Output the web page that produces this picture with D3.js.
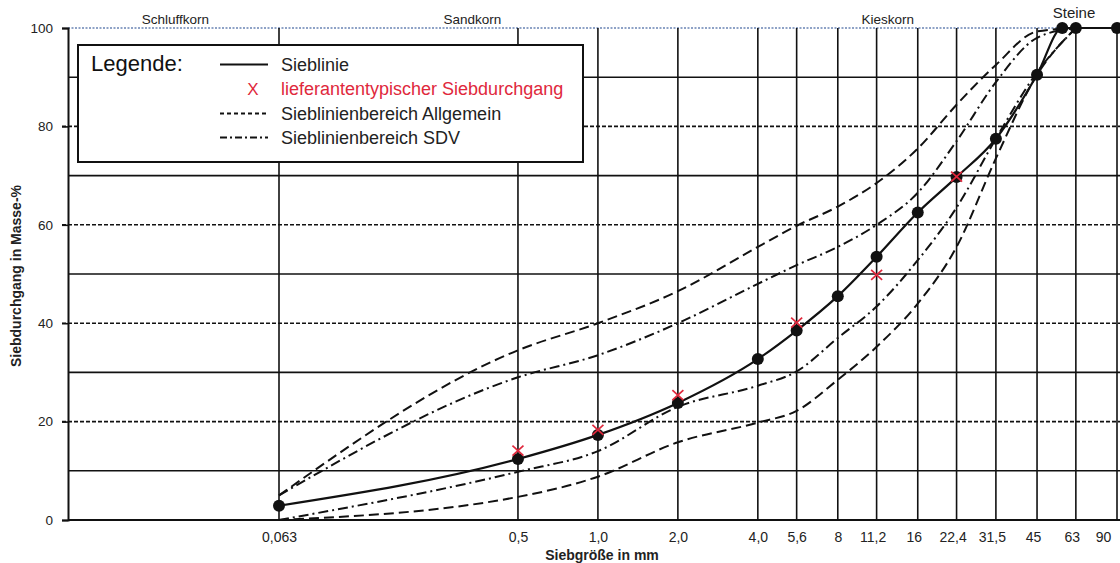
<!DOCTYPE html>
<html>
<head>
<meta charset="utf-8">
<script src="https://cdn.jsdelivr.net/npm/d3@7"></script>
<style>
  body { margin: 0; background: #fff; }
  svg { display: block; font-family: "Liberation Sans", Arial, sans-serif; }
</style>
</head>
<body>
<div id="chart"></div>
<script>
// sieve sizes (mm) and their axis labels
var sieveSizes = [0.063, 0.5, 1, 2, 4, 5.6, 8, 11.2, 16, 22.4, 31.5, 45, 63, 90];
var sieveLabels = ["0,063", "0,5", "1,0", "2,0", "4,0", "5,6", "8", "11,2", "16", "22,4", "31,5", "45", "63", "90"];

var yTicks = [0, 20, 40, 60, 80, 100];
var gridSolid = [10, 30, 50, 70, 90];
var gridDashed = [20, 40, 60, 80];

// Sieblinie (measured)
var lineSizes = [0.063, 0.5, 1, 2, 4, 5.6, 8, 11.2, 16, 22.4, 31.5, 45, 56, 63, 90];
var lineValues = [2.9, 12.4, 17.3, 23.8, 32.7, 38.5, 45.5, 53.5, 62.5, 69.7, 77.5, 90.5, 100, 100, 100];

// lieferantentypischer Siebdurchgang
var typSizes = [0.5, 1, 2, 5.6, 11.2, 22.4];
var typValues = [14.1, 18.3, 25.4, 40.1, 49.8, 69.8];

// Sieblinienbereiche
var bandSizes = [0.063, 0.5, 1, 2, 4, 5.6, 8, 11.2, 16, 22.4, 31.5, 45, 63];
var allgemeinUpper = [5, 34.5, 40, 46.5, 55.5, 59.8, 63.7, 68.5, 75.5, 84.4, 92.5, 99.3, 100];
var allgemeinLower = [0, 4.7, 8.8, 15.8, 19.8, 22.2, 28.5, 35.2, 44, 55.5, 73.5, 90.5, 100];
var sdvUpper = [5, 29, 33.5, 40, 48, 51.8, 55.5, 60, 66.5, 77, 89, 98, 100];
var sdvLower = [0, 9.8, 14, 23, 27.3, 30.2, 37, 43.4, 52.8, 63.5, 77.5, 91, 100];

var zoneNames = ["Schluffkorn", "Sandkorn", "Kieskorn"];
var zoneBounds = [[0.0101, 0.063], [0.063, 2], [2, 63]];

var legendLabels = ["Sieblinie", "lieferantentypischer Siebdurchgang", "Sieblinienbereich Allgemein", "Sieblinienbereich SDV"];

var svgWidth = 1120;
var svgHeight = 563;
var plotLeft = 68, plotRight = 1120, plotTop = 28, plotBottom = 520;
var ink = "#111";
var red = "#e0283c";

var svg = d3.select("#chart").append("svg")
  .attr("width", svgWidth)
  .attr("height", svgHeight);

var x = d3.scaleLog().domain([0.063, 90]).range([279, 1117]);
var y = d3.scaleLinear().domain([0, 100]).range([plotBottom, plotTop]);

// top border, dotted blue
svg.append("line")
  .attr("x1", plotLeft).attr("x2", plotRight)
  .attr("y1", y(100)).attr("y2", y(100))
  .attr("stroke", "#6a84b4").attr("stroke-width", 1.3)
  .attr("stroke-dasharray", "2,1.5");

// horizontal grid
svg.append("g").selectAll("line")
  .data(gridSolid).enter().append("line")
  .attr("x1", plotLeft).attr("x2", plotRight)
  .attr("y1", d => y(d)).attr("y2", d => y(d))
  .attr("stroke", ink).attr("stroke-width", 1.6);

svg.append("g").selectAll("line")
  .data(gridDashed).enter().append("line")
  .attr("x1", plotLeft - 6).attr("x2", plotRight)
  .attr("y1", d => y(d)).attr("y2", d => y(d))
  .attr("stroke", ink).attr("stroke-width", 1.6)
  .attr("stroke-dasharray", "4,2");

// vertical grid at every sieve size
svg.append("g").selectAll("line")
  .data(sieveSizes).enter().append("line")
  .attr("x1", d => x(d)).attr("x2", d => x(d))
  .attr("y1", y(100)).attr("y2", y(0))
  .attr("stroke", ink).attr("stroke-width", 1.6);

// y axis
var yAxis = svg.append("g")
  .attr("transform", `translate(${plotLeft},0)`)
  .call(d3.axisLeft(y).tickValues(yTicks).tickSize(6).tickPadding(9));
yAxis.select(".domain").attr("stroke", ink).attr("stroke-width", 2);
yAxis.selectAll(".tick line").attr("stroke", ink).attr("stroke-width", 1.6);
yAxis.selectAll(".tick text")
  .attr("fill", "#222").style("font-size", "13.5px")
  .style("font-family", "'Liberation Sans', Arial, sans-serif");

// x axis
var xAxis = svg.append("g")
  .attr("transform", `translate(0,${plotBottom})`)
  .call(d3.axisBottom(x).tickValues(sieveSizes)
    .tickFormat((d, i) => sieveLabels[i]).tickSize(0).tickPadding(12));
xAxis.select(".domain").remove();
xAxis.selectAll(".tick text")
  .attr("fill", "#222").style("font-size", "14px")
  .style("font-family", "'Liberation Sans', Arial, sans-serif")
  .attr("dx", (d, i) => i === sieveSizes.length - 1 ? -14 : (i > 6 ? -4 : 0));
svg.append("line")
  .attr("x1", plotLeft).attr("x2", plotRight)
  .attr("y1", plotBottom).attr("y2", plotBottom)
  .attr("stroke", ink).attr("stroke-width", 2);

// zone labels
svg.append("g").selectAll("text")
  .data(zoneNames).enter().append("text")
  .attr("x", (d, i) => (x(zoneBounds[i][0]) + x(zoneBounds[i][1])) / 2)
  .attr("dx", (d, i) => [2, -6, 11][i])
  .attr("y", 24)
  .attr("text-anchor", "middle")
  .attr("fill", "#222")
  .style("font-size", "13.5px")
  .text(d => d);
svg.append("text")
  .attr("x", x(62)).attr("y", 18)
  .attr("text-anchor", "middle").attr("fill", "#222")
  .style("font-size", "15px")
  .text("Steine");

// axis titles
svg.append("text")
  .attr("transform", "translate(21,276) rotate(-90)")
  .attr("text-anchor", "middle").attr("fill", "#222")
  .style("font-size", "14px").style("font-weight", "bold")
  .text("Siebdurchgang in Masse-%");
svg.append("text")
  .attr("x", 602).attr("y", 560)
  .attr("text-anchor", "middle").attr("fill", "#222")
  .style("font-size", "14px").style("font-weight", "bold")
  .text("Siebgröße in mm");

// curves
var curve = d3.line()
  .x(d => x(d[0]))
  .y(d => y(d[1]))
  .curve(d3.curveMonotoneX);

function drawBand(values, dash) {
  svg.append("path")
    .datum(bandSizes.map((s, i) => [s, values[i]]))
    .attr("d", curve)
    .attr("fill", "none")
    .attr("stroke", ink).attr("stroke-width", 2)
    .attr("stroke-dasharray", dash);
}
drawBand(allgemeinUpper, "10,5");
drawBand(allgemeinLower, "10,5");
drawBand(sdvUpper, "10,4,2,4");
drawBand(sdvLower, "10,4,2,4");

var sieblinie = lineSizes.map((s, i) => [s, lineValues[i]]);
svg.append("path")
  .datum(sieblinie)
  .attr("d", curve)
  .attr("fill", "none")
  .attr("stroke", ink).attr("stroke-width", 2.2);

svg.append("g").selectAll("circle")
  .data(sieblinie).enter().append("circle")
  .attr("cx", d => x(d[0])).attr("cy", d => y(d[1]))
  .attr("r", 6).attr("fill", ink);

// red crosses
var typ = typSizes.map((s, i) => [s, typValues[i]]);
var crosses = svg.append("g").selectAll("g")
  .data(typ).enter().append("g")
  .attr("transform", d => `translate(${x(d[0])},${y(d[1])})`);
crosses.append("line").attr("x1", -5.5).attr("y1", -5).attr("x2", 5.5).attr("y2", 5)
  .attr("stroke", red).attr("stroke-width", 1.7);
crosses.append("line").attr("x1", -5.5).attr("y1", 5).attr("x2", 5.5).attr("y2", -5)
  .attr("stroke", red).attr("stroke-width", 1.7);

// legend
var legend = svg.append("g");
legend.append("rect")
  .attr("x", 78).attr("y", 45).attr("width", 505).attr("height", 117)
  .attr("fill", "#fff").attr("stroke", ink).attr("stroke-width", 2);
legend.append("text")
  .attr("x", 91).attr("y", 71)
  .attr("fill", "#111").style("font-size", "22px")
  .text("Legende:");

var rowY = [64.5, 89, 113.5, 137.5];
legend.selectAll(".lbl")
  .data(legendLabels).enter().append("text")
  .attr("class", "lbl")
  .attr("x", 281).attr("y", (d, i) => rowY[i] + 6)
  .attr("fill", (d, i) => i === 1 ? red : "#222")
  .style("font-size", "18px")
  .text(d => d);

var sampleDash = [null, null, "4,3", "7,3,2,3"];
[0, 2, 3].forEach(function (i) {
  legend.append("line")
    .attr("x1", 220).attr("x2", 268)
    .attr("y1", rowY[i]).attr("y2", rowY[i])
    .attr("stroke", ink).attr("stroke-width", 2)
    .attr("stroke-dasharray", sampleDash[i]);
});
legend.append("text")
  .attr("x", 253).attr("y", rowY[1] + 6)
  .attr("text-anchor", "middle").attr("fill", red)
  .style("font-size", "17px")
  .text("X");
</script>
</body>
</html>
